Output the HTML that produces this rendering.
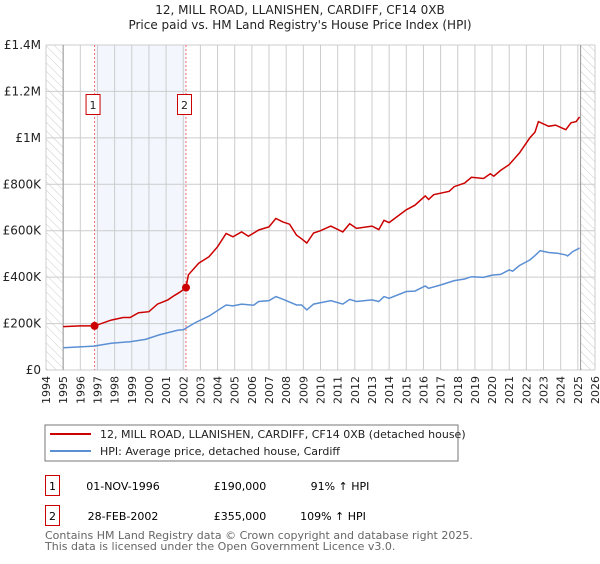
<!DOCTYPE html>
<html><head><meta charset="utf-8"><style>
body{margin:0;background:#fff;font-family:"DejaVu Sans","Liberation Sans",sans-serif}
svg text{font-family:"DejaVu Sans","Liberation Sans",sans-serif}
</style></head><body>
<svg id="c" width="600" height="560" xmlns="http://www.w3.org/2000/svg">
<defs><pattern id="hatch" width="6" height="6" patternUnits="userSpaceOnUse" patternTransform="rotate(-45)"><line x1="0" y1="0" x2="0" y2="6" stroke="#ccc" stroke-width="1"/></pattern></defs>
<text x="300" y="14" text-anchor="middle" font-size="12" fill="#222">12, MILL ROAD, LLANISHEN, CARDIFF, CF14 0XB</text>
<text x="300" y="29" text-anchor="middle" font-size="12" fill="#222">Price paid vs. HM Land Registry's House Price Index (HPI)</text>
<g id="plot"></g>
<rect x="45" y="425" width="413" height="36" fill="#fff" stroke="#777"/>
<line x1="50" y1="434" x2="91" y2="434" stroke="#cc0000" stroke-width="2"/>
<text x="100" y="438" font-size="11" fill="#222">12, MILL ROAD, LLANISHEN, CARDIFF, CF14 0XB (detached house)</text>
<line x1="50" y1="451" x2="91" y2="451" stroke="#5b8fd4" stroke-width="2"/>
<text x="100" y="455" font-size="11" fill="#222">HPI: Average price, detached house, Cardiff</text>
<g>
<rect x="45.5" y="475.5" width="14" height="20" fill="#fff" stroke="#cc0000"/>
<text x="52.5" y="490" text-anchor="middle" font-size="11">1</text>
<text x="123" y="490" text-anchor="middle" font-size="11">01-NOV-1996</text>
<text x="240" y="490" text-anchor="middle" font-size="11">£190,000</text>
<text x="340" y="490" text-anchor="middle" font-size="11">91% ↑ HPI</text></g>
<g>
<rect x="45.5" y="505.5" width="14" height="20" fill="#fff" stroke="#cc0000"/>
<text x="52.5" y="520" text-anchor="middle" font-size="11">2</text>
<text x="123" y="520" text-anchor="middle" font-size="11">28-FEB-2002</text>
<text x="240" y="520" text-anchor="middle" font-size="11">£355,000</text>
<text x="333" y="520" text-anchor="middle" font-size="11">109% ↑ HPI</text></g>
<text x="45" y="539" font-size="11" fill="#666">Contains HM Land Registry data © Crown copyright and database right 2025.</text>
<text x="45" y="550" font-size="11" fill="#666">This data is licensed under the Open Government Licence v3.0.</text>
</svg>
<script>
const yTicks=[0,200,400,600,800,1000,1200,1400];
const yTickLabels=["£0","£200K","£400K","£600K","£800K","£1M","£1.2M","£1.4M"];
const years=[1994,1995,1996,1997,1998,1999,2000,2001,2002,2003,2004,2005,2006,2007,2008,2009,2010,2011,2012,2013,2014,2015,2016,2017,2018,2019,2020,2021,2022,2023,2024,2025,2026];
const saleYears=[1996.83,2002.16];
const saleValues=[190,355];
const saleLabels=["1","2"];
const redT=[1995,1996,1996.83,1997.8,1998.5,1998.9,1999.4,2000,2000.5,2001.1,2001.5,2001.8,2002.16,2002.3,2002.9,2003.5,2004,2004.5,2004.9,2005.4,2005.8,2006.4,2007,2007.4,2007.8,2008.2,2008.6,2008.9,2009.2,2009.6,2010,2010.6,2011.3,2011.7,2012.1,2013,2013.4,2013.7,2014,2015,2015.5,2016.1,2016.3,2016.6,2017.5,2017.8,2018.4,2018.8,2019.5,2019.9,2020.1,2020.5,2021,2021.6,2022.2,2022.5,2022.7,2023.3,2023.7,2024.3,2024.6,2024.9,2025.1];
const redV=[187,190,190,215,226,226,247,251,284,302,322,335,355,410,460,488,531,588,574,595,576,603,617,653,638,628,581,565,547,590,600,620,595,630,610,620,605,645,635,690,710,750,735,755,770,790,805,830,825,845,835,860,885,935,1000,1025,1070,1050,1055,1035,1065,1070,1090];
const blueT=[1995,1996.8,1997.8,1998.9,1999.8,2000.6,2001.7,2002,2002.7,2003.5,2004.5,2004.9,2005.4,2006.1,2006.4,2007,2007.4,2007.8,2008.6,2008.9,2009.2,2009.6,2010.6,2011.3,2011.7,2012.1,2013,2013.4,2013.7,2014,2015,2015.5,2016.1,2016.3,2017,2017.8,2018.4,2018.8,2019.5,2020,2020.5,2021,2021.2,2021.6,2022.2,2022.5,2022.8,2023.3,2023.8,2024.3,2024.4,2024.7,2025.1];
const blueV=[96,103,115,122,132,151,172,173,204,232,280,276,284,279,295,299,316,305,280,280,259,284,299,284,304,295,302,295,316,309,338,340,362,352,366,385,392,402,399,409,412,431,426,450,474,493,514,506,503,496,491,510,525];
const L=46,R=595,T=45,B=370;
const x=y=>L+(y-1994)*(R-L)/32;
const yv=v=>B-v*(B-T)/1400;
const NS="http://www.w3.org/2000/svg";
const g=document.getElementById('plot');
function mk(tag,attrs,parent){const e=document.createElementNS(NS,tag);for(const k in attrs)e.setAttribute(k,attrs[k]);(parent||g).appendChild(e);return e;}
let e;
e=mk('rect',{x:x(saleYears[0]),y:T,width:x(saleYears[1])-x(saleYears[0]),height:B-T,fill:'#eef3fc',opacity:0.7});


years.forEach(yr=>{const l=mk('line',{x1:x(yr),x2:x(yr),y1:T,y2:B,stroke:'#ccc','stroke-width':1});


const t=mk('text',{x:0,y:0,'font-size':11,fill:'#222','text-anchor':'end',transform:`translate(${x(yr)+4},${B+6}) rotate(-90)`});
t.textContent=yr;

});
yTicks.forEach((v,i)=>{const l=mk('line',{x1:L,x2:R,y1:yv(v),y2:yv(v),stroke:'#ccc','stroke-width':1});


const t=mk('text',{x:L-5,y:yv(v)+4,'font-size':12,fill:'#222','text-anchor':'end'});
t.textContent=yTickLabels[i];

});
e=mk('rect',{x:L,y:T,width:x(1995)-L,height:B-T,fill:'url(#hatch)'});


e=mk('rect',{x:x(2025.16),y:T,width:R-x(2025.16),height:B-T,fill:'url(#hatch)'});


mk('line',{x1:x(1995),x2:x(1995),y1:T,y2:B,stroke:'#999'});
mk('line',{x1:x(2025.16),x2:x(2025.16),y1:T,y2:B,stroke:'#999'});
saleYears.forEach((sy,i)=>{const l=mk('line',{x1:x(sy),x2:x(sy),y1:T,y2:B,stroke:'#f26b6b','stroke-dasharray':'2,2'});


const r=mk('rect',{x:x(sy)-8.5,y:94.5,width:14,height:20,fill:'#fff',stroke:'#cc0000'});


const t=mk('text',{x:x(sy)-1.5,y:109,'font-size':11,'text-anchor':'middle',fill:'#222'});
t.textContent=saleLabels[i];

});
const path=(ts,vs)=>ts.map((t,i)=>(i?'L':'M')+x(t).toFixed(1)+','+yv(vs[i]).toFixed(1)).join('');
e=mk('path',{d:path(blueT,blueV),fill:'none',stroke:'#5b8fd4','stroke-width':1.5});


e=mk('path',{d:path(redT,redV),fill:'none',stroke:'#cc0000','stroke-width':1.5});


saleYears.forEach((sy,i)=>{const c=mk('circle',{cx:x(sy),cy:yv(saleValues[i]),r:4,fill:'#cc0000'});

});
</script>
</body></html>
